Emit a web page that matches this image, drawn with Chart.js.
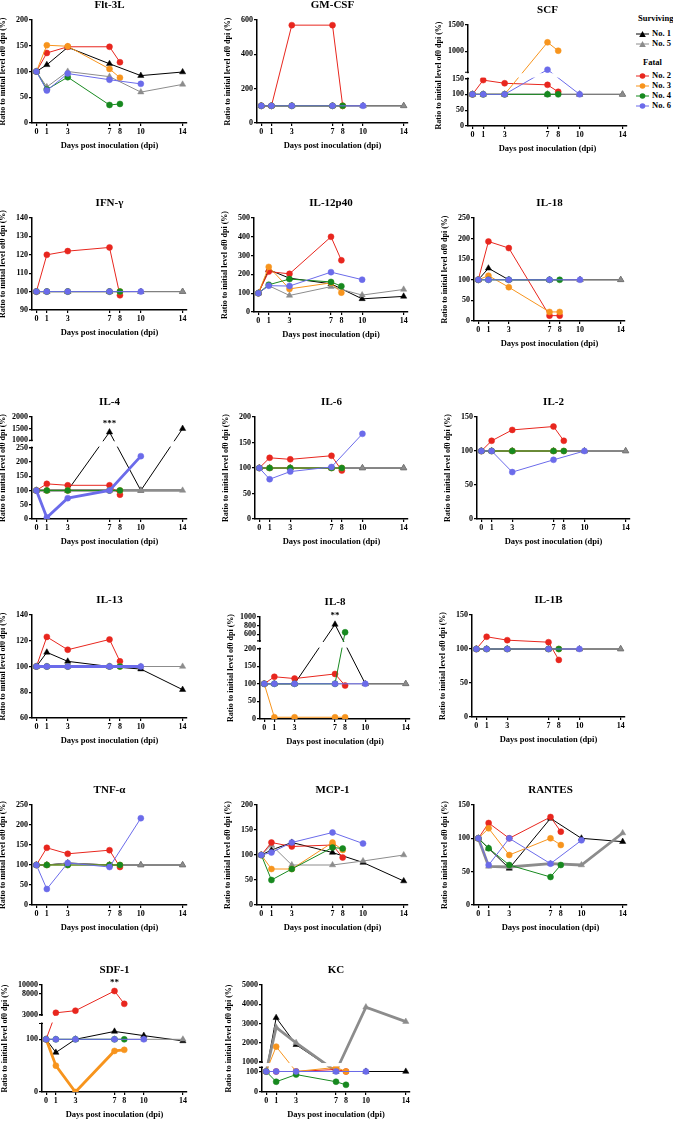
<!DOCTYPE html>
<html>
<head>
<meta charset="utf-8">
<script src="https://cdn.jsdelivr.net/npm/chart.js@4.4.1/dist/chart.umd.min.js"></script>
<style>
  body { margin: 0; background: #fff; }
  #wrap { position: relative; width: 673px; height: 1145px; overflow: hidden; }
  #wrap canvas { position: absolute; }
  .leg { position: absolute; font: bold 8.5px "Liberation Serif", serif; color: #000; white-space: nowrap; line-height: 10px; }
  .leg svg { vertical-align: middle; margin-right: 3px; }
</style>
</head>
<body>
<div id="wrap"></div>
<script>
// jours de prélèvement
const survDays = [0, 1, 3, 7, 10, 14];
const fatalDays = [0, 1, 3, 7, 8];
const no6Days = [0, 1, 3, 7, 10];
const xTicks = [0, 1, 3, 7, 8, 10, 14];

// ordre des séries: No. 1, No. 5 (survivants), No. 2, No. 3, No. 4, No. 6 (fatals)
const seriesNames = ['No. 1', 'No. 5', 'No. 2', 'No. 3', 'No. 4', 'No. 6'];
const dayLists = [survDays, survDays, fatalDays, fatalDays, fatalDays, no6Days];

const flt3l = [
    [100, 113, 147, 115, 92, 99],
    [100, 70, 100, 90, 60, 75],
    [100, 136, 148, 148, 118],
    [100, 151, 149, 105, 88],
    [100, 65, 89, 35, 37],
    [100, 63, 96, 84, 76]
];
const flt3lTicks = [0, 50, 100, 150, 200];

const gmcsf = [
    [100, 100, 100, 100, 100, 100],
    [100, 100, 100, 100, 100, 100],
    [100, 100, 570, 570, 100],
    [100, 100, 100, 100, 100],
    [100, 100, 100, 100, 100],
    [100, 100, 100, 100, 100]
];
const gmcsfTicks = [0, 200, 400, 600];

const scf = [
    [100, 100, 100, 100, 100, 100],
    [100, 100, 100, 100, 100, 100],
    [100, 145, 135, 130, 108],
    [100, 100, 100, 1170, 1010],
    [100, 100, 100, 100, 100],
    [100, 100, 100, 650, 100]
];
const scfTicks = [0, 50, 100, 150, 1000, 1500];

const ifng = [
    [100, 100, 100, 100, 100, 100],
    [100, 100, 100, 100, 100, 100],
    [100, 120, 122, 124, 98],
    [100, 100, 100, 100, 100],
    [100, 100, 100, 100, 100],
    [100, 100, 100, 100, 100]
];
const ifngTicks = [90, 100, 110, 120, 130, 140];

const il12 = [
    [100, 225, 180, 150, 70, 83],
    [100, 140, 88, 135, 90, 120],
    [100, 215, 203, 400, 275],
    [100, 240, 123, 155, 103],
    [100, 145, 175, 160, 137],
    [100, 140, 138, 212, 172]
];
const il12Ticks = [0, 100, 200, 300, 400, 500];

const il18 = [
    [100, 128, 100, 100, 100, 100],
    [100, 100, 100, 100, 100, 100],
    [100, 193, 177, 13, 13],
    [100, 110, 82, 22, 22],
    [100, 100, 100, 100, 100],
    [100, 100, 100, 100, 100]
];
const il18Ticks = [0, 50, 100, 150, 200, 250];

const il4 = [
    [100, 100, 100, 1350, 100, 1500],
    [100, 100, 100, 100, 100, 100],
    [100, 123, 118, 118, 85],
    [100, 100, 100, 100, 100],
    [100, 100, 100, 100, 100],
    [100, 5, 73, 100, 220]
];
const il4Ticks = [0, 50, 100, 150, 200, 250, 1000, 1500, 2000];

const il6 = [
    [100, 100, 100, 100, 100, 100],
    [100, 100, 100, 100, 100, 100],
    [100, 120, 117, 124, 95],
    [100, 100, 100, 100, 100],
    [100, 100, 100, 100, 100],
    [100, 78, 93, 102, 167]
];
const il6Ticks = [0, 50, 100, 150, 200];

const il2 = [
    [100, 100, 100, 100, 100, 100],
    [100, 100, 100, 100, 100, 100],
    [100, 115, 131, 136, 115],
    [100, 100, 100, 100, 100],
    [100, 100, 100, 100, 100],
    [100, 100, 69, 87, 100]
];
const il2Ticks = [0, 50, 100, 150];

const il13 = [
    [100, 111, 104, 100, 98, 82],
    [100, 100, 100, 100, 100, 100],
    [100, 123, 113, 121, 104],
    [100, 100, 100, 100, 100],
    [100, 100, 100, 100, 100],
    [100, 100, 100, 100, 100]
];
const il13Ticks = [60, 80, 100, 120, 140];

const il8 = [
    [100, 100, 100, 830, 100, 100],
    [100, 100, 100, 100, 100, 100],
    [100, 120, 115, 128, 95],
    [100, 5, 5, 5, 5],
    [100, 100, 100, 100, 650],
    [100, 100, 100, 100, 100]
];
const il8Ticks = [0, 50, 100, 150, 200, 600, 800, 1000];

const il1b = [
    [100, 100, 100, 100, 100, 100],
    [100, 100, 100, 100, 100, 100],
    [100, 118, 113, 110, 84],
    [100, 100, 100, 100, 100],
    [100, 100, 100, 100, 100],
    [100, 100, 100, 100, 100]
];
const il1bTicks = [0, 50, 100, 150];

const tnfa = [
    [100, 100, 105, 100, 100, 100],
    [100, 100, 105, 100, 100, 100],
    [100, 143, 128, 137, 95],
    [100, 100, 100, 100, 100],
    [100, 100, 100, 100, 100],
    [100, 40, 105, 95, 217]
];
const tnfaTicks = [0, 50, 100, 150, 200, 250];

const mcp1 = [
    [100, 110, 125, 105, 85, 48],
    [100, 120, 80, 80, 88, 100],
    [100, 125, 117, 120, 95],
    [100, 72, 72, 125, 110],
    [100, 50, 72, 115, 113],
    [100, 105, 125, 145, 123]
];
const mcp1Ticks = [0, 50, 100, 150, 200];

const rantes = [
    [100, 85, 55, 130, 100, 95],
    [100, 58, 57, 62, 60, 108],
    [100, 123, 100, 132, 110],
    [100, 115, 75, 100, 90],
    [100, 85, 60, 42, 60],
    [100, 60, 100, 62, 97]
];
const rantesTicks = [0, 50, 100, 150];

const sdf1 = [
    [100, 75, 100, 115, 107, 97],
    [100, 100, 100, 100, 100, 100],
    [100, 3500, 4000, 8600, 5600],
    [100, 50, 0, 78, 80],
    [100, 100, 100, 100, 100],
    [100, 100, 100, 100, 100]
];
const sdf1Ticks = [0, 100, 3000, 8000, 10000];

const kc = [
    [100, 3300, 1900, 100, 100, 100],
    [100, 2800, 2000, 100, 3850, 3100],
    [100, 100, 100, 110, 100],
    [100, 1800, 100, 120, 100],
    [100, 50, 85, 50, 35],
    [100, 100, 100, 100, 100]
];
const kcTicks = [0, 100, 1000, 2000, 3000, 4000, 5000];

const seriesColors = ['#000000', '#8c8c8c', '#e8261e', '#f7941d', '#17891f', '#6b6bea'];
const serif = '"Liberation Serif", "Times New Roman", serif';

// box = [axe y, fin axe x, haut, bas] en pixels de la page
const panels = [
    { title: 'Flt-3L', data: flt3l, ticks: flt3lTicks, min: 0, max: 200, box: [32, 187, 20, 123] },
    { title: 'GM-CSF', data: gmcsf, ticks: gmcsfTicks, min: 0, max: 600, box: [257, 408, 20, 123] },
    { title: 'SCF', data: scf, ticks: scfTicks, box: [468, 627, 25, 126],
      brk: { loMin: 0, loMax: 150, hiMin: 600, hiMax: 1500, fracLo: 0.47, fracGap: 0.062 } },
    { title: 'IFN-\u03b3', data: ifng, ticks: ifngTicks, min: 90, max: 140, box: [32, 187, 218, 310] },
    { title: 'IL-12p40', data: il12, ticks: il12Ticks, min: 0, max: 500, box: [254, 408, 218, 312] },
    { title: 'IL-18', data: il18, ticks: il18Ticks, min: 0, max: 250, box: [474, 625, 218, 321] },
    { title: 'IL-4', data: il4, ticks: il4Ticks, box: [32, 187, 417, 519], thick: [1, 5],
      brk: { loMin: 0, loMax: 250, hiMin: 1000, hiMax: 2000, fracLo: 0.70, fracGap: 0.072 },
      stars: { x: 7, y: 1350, text: '***' } },
    { title: 'IL-6', data: il6, ticks: il6Ticks, min: 0, max: 200, box: [255, 408, 417, 519] },
    { title: 'IL-2', data: il2, ticks: il2Ticks, min: 0, max: 150, box: [477, 630, 417, 519] },
    { title: 'IL-13', data: il13, ticks: il13Ticks, min: 60, max: 140, box: [32, 187, 615, 718], thick: [5] },
    { title: 'IL-8', data: il8, ticks: il8Ticks, box: [260, 410, 617, 719],
      brk: { loMin: 0, loMax: 200, hiMin: 450, hiMax: 1000, fracLo: 0.69, fracGap: 0.075 },
      stars: { x: 7, y: 830, text: '**' } },
    { title: 'IL-1B', data: il1b, ticks: il1bTicks, min: 0, max: 150, box: [472, 625, 615, 717] },
    { title: 'TNF-\u03b1', data: tnfa, ticks: tnfaTicks, min: 0, max: 250, box: [32, 187, 805, 905] },
    { title: 'MCP-1', data: mcp1, ticks: mcp1Ticks, min: 0, max: 200, box: [257, 408, 805, 905] },
    { title: 'RANTES', data: rantes, ticks: rantesTicks, min: 0, max: 150, box: [474, 627, 805, 905], thick: [1] },
    { title: 'SDF-1', data: sdf1, ticks: sdf1Ticks, box: [42, 187, 985, 1092], yW: 42, thick: [3],
      brk: { loMin: 0, loMax: 130, hiMin: 3000, hiMax: 10000, fracLo: 0.64, fracGap: 0.08 },
      stars: { x: 7, y: 8600, text: '**' } },
    { title: 'KC', data: kc, ticks: kcTicks, box: [262, 410, 985, 1092], yW: 38, thick: [1],
      brk: { loMin: 0, loMax: 120, hiMin: 1000, hiMax: 5000, fracLo: 0.23, fracGap: 0.05 } }
];

// échelle coupée (deux segments linéaires)
class BrokenScale extends Chart.LinearScale {
    static id = 'broken';
    static defaults = Chart.LinearScale.defaults;
    getPixelForValue(v) {
        const b = this.brk;
        if (!b) return super.getPixelForValue(v);
        let d;
        if (v <= b.loMax) {
            d = (v - b.loMin) / (b.loMax - b.loMin) * b.fracLo;
        } else {
            const start = b.fracLo + b.fracGap;
            d = start + (v - b.hiMin) / (b.hiMax - b.hiMin) * (1 - start);
        }
        return this.getPixelForDecimal(d);
    }
}
Chart.register(BrokenScale);

const panelTitle = {
    id: 'panelTitle',
    afterDraw(chart, args, opts) {
        const { ctx, chartArea } = chart;
        ctx.save();
        ctx.font = 'bold 11px ' + serif;
        ctx.fillStyle = '#000';
        ctx.textAlign = 'center';
        ctx.textBaseline = 'middle';
        ctx.fillText(opts.text, (chartArea.left + chartArea.right) / 2, chartArea.top - 15);
        ctx.restore();
    }
};

const breakBand = {
    id: 'breakBand',
    afterDatasetsDraw(chart, args, b) {
        if (!b || b.loMax === undefined) return;
        const { ctx, chartArea } = chart;
        const y = chart.scales.y;
        const yLo = y.getPixelForValue(b.loMax);
        const yHi = y.getPixelForValue(b.hiMin);
        ctx.save();
        ctx.fillStyle = '#fff';
        ctx.fillRect(chartArea.left - 2, yHi + 1, chartArea.right - chartArea.left + 4, yLo - yHi - 2);
        ctx.strokeStyle = '#000';
        ctx.lineWidth = 1.2;
        ctx.beginPath();
        ctx.moveTo(chartArea.left - 3, yHi); ctx.lineTo(chartArea.left + 1, yHi);
        ctx.moveTo(chartArea.left - 3, yLo); ctx.lineTo(chartArea.left + 1, yLo);
        ctx.stroke();
        ctx.restore();
    }
};

const starMark = {
    id: 'starMark',
    afterDraw(chart, args, s) {
        if (!s || s.text === undefined) return;
        const { ctx } = chart;
        ctx.save();
        ctx.font = 'bold 9px ' + serif;
        ctx.fillStyle = '#000';
        ctx.textAlign = 'center';
        ctx.fillText(s.text, chart.scales.x.getPixelForValue(s.x), chart.scales.y.getPixelForValue(s.y) - 6);
        ctx.restore();
    }
};

const wrap = document.getElementById('wrap');

function makePanel(p) {
    const [axisX, right, top, bottom] = p.box;
    const yW = p.yW || 34;
    const padTop = 22, padRight = 6, xH = 30;
    const w = right - axisX + yW + padRight;
    const h = bottom - top + padTop + xH;

    const canvas = document.createElement('canvas');
    canvas.width = w;
    canvas.height = h;
    canvas.style.width = w + 'px';
    canvas.style.height = h + 'px';
    canvas.style.left = (axisX - yW) + 'px';
    canvas.style.top = (top - padTop) + 'px';
    wrap.appendChild(canvas);

    const thick = p.thick || [];
    const datasets = p.data.map((vals, i) => ({
        label: seriesNames[i],
        data: vals.map((v, j) => ({ x: dayLists[i][j], y: v })),
        borderColor: seriesColors[i],
        backgroundColor: seriesColors[i],
        borderWidth: thick.includes(i) ? 2.8 : 1,
        pointStyle: i < 2 ? 'triangle' : 'circle',
        pointRadius: i < 2 ? 3.6 : 3,
        pointBorderWidth: 0.5,
        order: 5 - i
    }));

    const tickFont = { family: serif, size: 8, weight: 'bold' };

    new Chart(canvas, {
        type: 'line',
        data: { datasets },
        plugins: [panelTitle, breakBand, starMark],
        options: {
            responsive: false,
            animation: false,
            devicePixelRatio: 1,
            layout: { padding: { top: padTop, right: padRight, left: 0, bottom: 0 } },
            elements: { line: { tension: 0 } },
            plugins: {
                legend: { display: false },
                tooltip: { enabled: false },
                panelTitle: { text: p.title },
                breakBand: p.brk || {},
                starMark: p.stars || {}
            },
            scales: {
                x: {
                    type: 'linear',
                    min: -0.42,
                    max: 14.42,
                    afterBuildTicks: s => { s.ticks = xTicks.map(v => ({ value: v })); },
                    afterFit: s => { s.height = xH; },
                    grid: { drawOnChartArea: false, tickLength: 3, color: '#000', lineWidth: 1.2 },
                    border: { color: '#000', width: 1.5 },
                    ticks: { autoSkip: false, maxRotation: 0, padding: 1, color: '#000', font: tickFont,
                             callback: v => String(v) },
                    title: { display: true, text: 'Days post inoculation (dpi)', color: '#000',
                             font: { family: serif, size: 8.5, weight: 'bold' }, padding: { top: 0, bottom: 2 } }
                },
                y: {
                    type: p.brk ? 'broken' : 'linear',
                    min: p.brk ? p.brk.loMin : p.min,
                    max: p.brk ? p.brk.hiMax : p.max,
                    afterBuildTicks: s => {
                        s.brk = p.brk;
                        s.ticks = p.ticks.map(v => ({ value: v }));
                    },
                    afterFit: s => { s.width = yW; },
                    grid: { drawOnChartArea: false, tickLength: 3, color: '#000', lineWidth: 1.2 },
                    border: { color: '#000', width: 1.5 },
                    ticks: { autoSkip: false, padding: 1, color: '#000', font: tickFont,
                             callback: v => String(v) },
                    title: { display: true, text: 'Ratio to initial level of0 dpi (%)', color: '#000',
                             font: { family: serif, size: 8, weight: 'bold' }, padding: 0 }
                }
            }
        }
    });
}

panels.forEach(makePanel);

// légende (groupes Surviving / Fatal)
function legendMark(color, tri) {
    const mark = tri
        ? `<polygon points="6.5,1 9.8,7 3.2,7" fill="${color}"/>`
        : `<circle cx="6.5" cy="4" r="2.8" fill="${color}"/>`;
    return `<svg width="13" height="8"><line x1="0" y1="4" x2="13" y2="4" stroke="${color}" stroke-width="1"/>${mark}</svg>`;
}
const legendRows = [
    { text: 'Surviving', y: 13, x: 638 },
    { text: 'No. 1', y: 28, x: 636, i: 0 },
    { text: 'No. 5', y: 38, x: 636, i: 1 },
    { text: 'Fatal', y: 57, x: 643 },
    { text: 'No. 2', y: 70, x: 636, i: 2 },
    { text: 'No. 3', y: 80, x: 636, i: 3 },
    { text: 'No. 4', y: 90, x: 636, i: 4 },
    { text: 'No. 6', y: 100, x: 636, i: 5 }
];
legendRows.forEach(r => {
    const d = document.createElement('div');
    d.className = 'leg';
    d.style.left = r.x + 'px';
    d.style.top = r.y + 'px';
    d.innerHTML = (r.i !== undefined ? legendMark(seriesColors[r.i], r.i < 2) : '') + r.text;
    wrap.appendChild(d);
});
</script>
</body>
</html>
